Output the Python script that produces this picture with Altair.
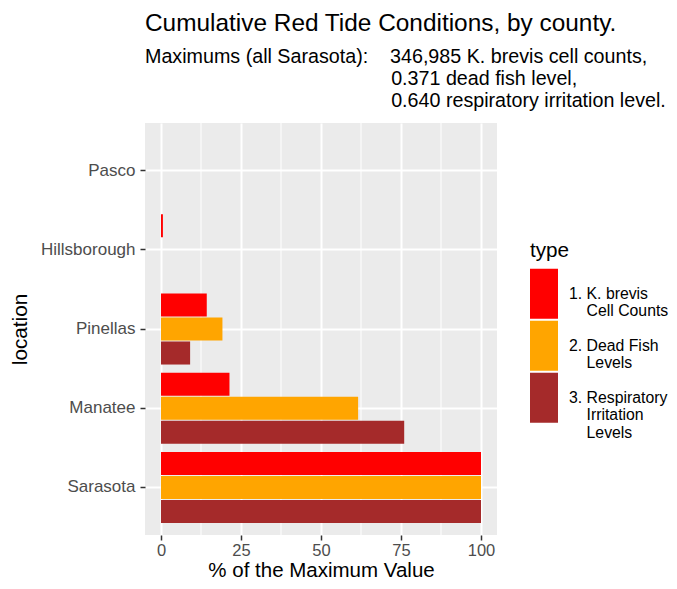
import altair as alt
import pandas as pd

NB = "\u00a0"
ZW = "\u200b"  # keeps the leading non-breaking spaces from being trimmed

locations = ["Pasco", "Hillsborough", "Pinellas", "Manatee", "Sarasota"]
types = [
    "1. K. brevis\n" + ZW + NB * 4 + "Cell Counts",
    "2. Dead Fish\n" + ZW + NB * 4 + "Levels",
    "3. Respiratory\n" + ZW + NB * 4 + "Irritation\n" + ZW + NB * 4 + "Levels",
]
colors = ["#FF0000", "#FFA500", "#A52A2A"]

kbrevis = [0.0, 0.6, 14.3, 21.4, 100.0]
dead_fish = [0.0, 0.0, 19.2, 61.6, 100.0]
respiratory = [0.0, 0.0, 9.1, 76.0, 100.0]

x_ticks = [0, 25, 50, 75, 100]
x_minor = [12.5, 37.5, 62.5, 87.5]

rows = []
for t, vals in zip(types, [kbrevis, dead_fish, respiratory]):
    for loc, v in zip(locations, vals):
        rows.append({"location": loc, "type": t, "value": v})
df = pd.DataFrame(rows)
minor_df = pd.DataFrame({"value": x_minor})

FONT = "Liberation Sans"

xscale = alt.Scale(domain=[-5, 105], nice=False, zero=False)
xaxis = alt.Axis(
    values=x_ticks, grid=True, gridColor="white", gridWidth=2,
    domain=False, tickColor="#333333", tickSize=5, tickWidth=1.5,
    labelFontSize=16.5, labelColor="#4D4D4D", labelPadding=2, labelFont=FONT,
    titleFontSize=20.5, titleColor="black", titleFontWeight="normal",
    titlePadding=2, titleFont=FONT,
)

minor = alt.Chart(minor_df).mark_rule(color="white", strokeWidth=1).encode(
    x=alt.X("value:Q", scale=xscale, axis=xaxis, title="% of the Maximum Value")
)

bars = alt.Chart(df).mark_bar(opacity=1).encode(
    x=alt.X("value:Q", scale=xscale, axis=xaxis, title="% of the Maximum Value"),
    y=alt.Y(
        "location:N", sort=locations,
        scale=alt.Scale(paddingInner=0, paddingOuter=0.1),
        axis=alt.Axis(
            grid=True, bandPosition=0.5, gridColor="white", gridWidth=2,
            domain=False, tickColor="#333333", tickSize=5, tickWidth=1.5,
            labelFontSize=17, labelColor="#4D4D4D", labelPadding=5, labelFont=FONT,
            titleFontSize=20.7, titleColor="black", titleFontWeight="normal",
            titlePadding=10, titleFont=FONT,
        ),
        title="location",
    ),
    yOffset=alt.YOffset("type:N", sort=types,
                        scale=alt.Scale(paddingInner=0.04, paddingOuter=0.17)),
    color=alt.Color(
        "type:N",
        scale=alt.Scale(domain=types, range=colors),
        legend=alt.Legend(
            title="type", orient="none", legendX=385, legendY=118,
            titleFontSize=20.7, titleFontWeight="normal", titleColor="black",
            titleFont=FONT, titlePadding=18,
            labelFontSize=15.8, labelColor="black", labelFont=FONT,
            labelExpr="split(datum.label, '\\n')",
            symbolType="M-1,-1.786L1,-1.786L1,1.786L-1,1.786Z",
            symbolSize=784, symbolStrokeWidth=0, symbolOpacity=1,
            labelOffset=11, rowPadding=0, padding=0, offset=0,
        ),
    ),
)

subtitle_pad = ZW + NB * 45
chart = alt.layer(minor, bars).properties(
    width=352, height=412,
    padding={"left": 137, "top": 115, "right": 172, "bottom": 46},
    autosize=alt.AutoSizeParams(type="none"),
    title=alt.TitleParams(
        text="Cumulative Red Tide Conditions, by county.",
        subtitle=[
            "Maximums (all Sarasota):" + NB * 4 + "346,985 K. brevis cell counts,",
            subtitle_pad + "0.371 dead fish level,",
            subtitle_pad + "0.640 respiratory irritation level.",
        ],
        anchor="start", frame="group", font=FONT, fontSize=24.4,
        fontWeight="normal", color="black",
        subtitleFont=FONT, subtitleFontSize=19.7, subtitleColor="black",
        subtitleLineHeight=22, subtitlePadding=10, offset=11,
    ),
).configure_view(fill="#EBEBEB", strokeWidth=0)

chart.save("out.html", embed_options={"renderer": "svg", "actions": False})
